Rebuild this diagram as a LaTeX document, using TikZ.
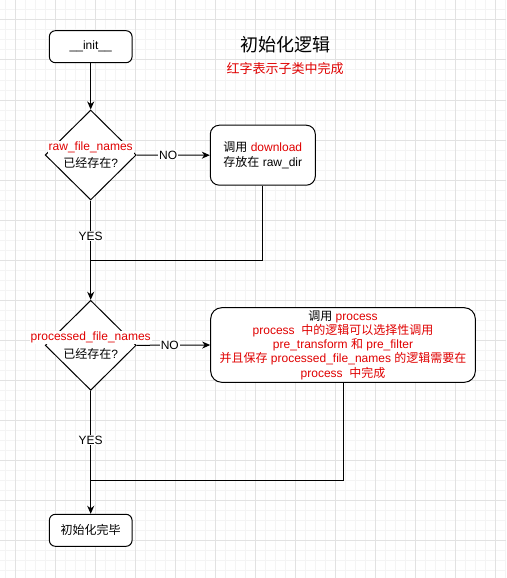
\documentclass[tikz,border=0pt]{standalone}
\usepackage{fontspec}
\setmainfont{Liberation Sans}
\newfontfamily\zhfont{Noto Sans CJK SC}
\newcommand{\zh}[1]{{\zhfont #1}}
\usetikzlibrary{shapes.geometric,arrows.meta}

\definecolor{gridminor}{HTML}{F4F4F4}
\definecolor{gridmajor}{HTML}{E2E2E2}
\definecolor{txtred}{HTML}{E00000}

\tikzset{
    box/.style={draw, line width=1pt, rounded corners=6pt, minimum width=82.7pt,
        minimum height=32pt, inner sep=0pt, fill=white, font=\fontsize{12}{15}\selectfont},
    bigbox/.style={draw, line width=1pt, fill=white, inner sep=0pt, align=center},
    decision/.style={draw, diamond, line width=1pt, fill=white, inner sep=0pt,
        minimum width=91pt, minimum height=90pt},
    lbl/.style={fill=white, inner sep=1pt, font=\fontsize{12}{15}\selectfont},
    conn/.style={line width=1pt, -{Stealth[length=8pt, width=7pt, inset=2.5pt]}},
    joinline/.style={line width=1pt}
}

\begin{document}
\begin{tikzpicture}[x=1pt, y=-1pt]
    \useasboundingbox (0, 0) rectangle (506, 578);
    \fill[white] (0, 0) rectangle (506, 578);

    % Grid
    \foreach \x in {5, 15, ..., 505}
        \draw[gridminor, line width=1pt] (\x, 0) -- (\x, 578);
    \foreach \y in {0, 10, ..., 570}
        \draw[gridminor, line width=1pt] (0, \y) -- (506, \y);
    \foreach \x in {15, 55, ..., 495}
        \draw[gridmajor, line width=1pt] (\x, 0) -- (\x, 578);
    \foreach \y in {20, 60, ..., 540}
        \draw[gridmajor, line width=1pt] (0, \y) -- (506, \y);

    % Title
    \node (title) at (285, 45) {\fontsize{18}{20}\selectfont\zh{初始化逻辑}};
    \node[text=txtred] (note) at (285, 69) {\fontsize{13}{15}\selectfont\zh{红字表示子类中完成}};

    % Boxes
    \node[box] (init) at (90.7, 46.7) {\_\_init\_\_};
    \node[decision] (raw) at (90.7, 155) {};
    \node[bigbox, rounded corners=9pt, minimum width=105pt, minimum height=60pt,
        font=\fontsize{12}{15}\selectfont] (dl) at (262.8, 155.2)
        {\zh{调用} \textcolor{txtred}{download}\\\zh{存放在} raw\_dir};
    \node[decision] (proc) at (90.7, 345.3) {};
    \node[bigbox, rounded corners=11pt, minimum width=264.6pt, minimum height=74.6pt,
        font=\fontsize{12}{14.3}\selectfont, text=txtred] (pr) at (343, 345)
        {\textcolor{black}{\zh{调用}} process\\
         process\ \ \zh{中的逻辑可以选择性调用}\\
         pre\_transform \zh{和} pre\_filter\\
         \zh{并且保存} processed\_file\_names \zh{的逻辑需要在}\\
         process\ \ \zh{中完成}};
    \node[box] (done) at (90.7, 530.3) {\zh{初始化完毕}};

    % Join points
    \coordinate (j1) at (90.7, 260.3);
    \coordinate (j2) at (90.7, 480.3);

    % Connectors
    \draw[conn] (init) -- (raw);
    \draw[conn] (raw.east) -- node[lbl, pos=0.43] (no1) {NO} (dl.west);
    \draw[conn] (raw.south) -- node[lbl, pos=0.36] (yes1) {YES} (proc.north);
    \draw[joinline] (dl.south) |- (j1);
    \draw[conn] (proc.east) -- node[lbl, pos=0.45] (no2) {NO} (pr.west);
    \draw[conn] (proc.south) -- node[lbl, pos=0.40] (yes2) {YES} (done.north);
    \draw[joinline] (pr.south) |- (j2);

    % Labels in the diamonds
    \node[lbl, text=txtred] (rawa) at (90.7, 147.7) {raw\_file\_names};
    \node[lbl] (rawb) at (90.7, 162.7) {\zh{已经存在}?};
    \node[lbl, text=txtred] (proca) at (90.7, 337.7) {processed\_file\_names};
    \node[lbl] (procb) at (90.7, 354) {\zh{已经存在}?};
\end{tikzpicture}
\end{document}
